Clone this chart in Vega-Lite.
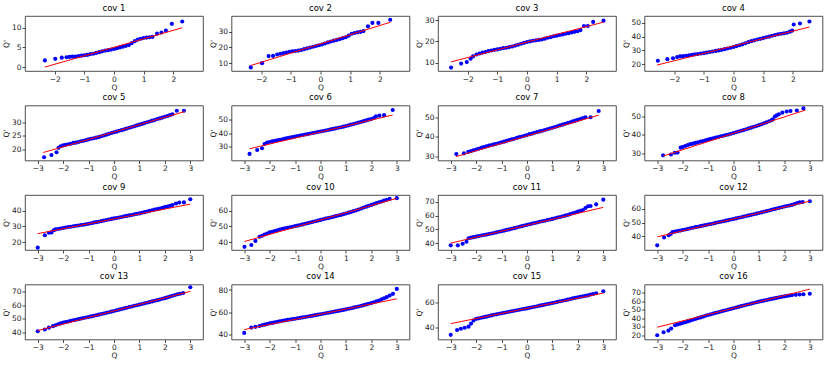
{
"$schema":"https://vega.github.io/schema/vega-lite/v6.json",
"padding":{"left":2,"top":3,"right":5,"bottom":3},
"spacing":{"row":34.5,"column":28.5},
"columns":4,
"bounds":"flush",
"config":{
 "view":{"continuousWidth":178,"continuousHeight":55,"stroke":"#222","strokeWidth":0.8},
 "axis":{"grid":false,"domain":false,"tickCount":20,"format":"d","tickColor":"#222","tickSize":3,"tickWidth":0.8,"labelFont":"DejaVu Sans","labelFontSize":7.5,"labelColor":"#222","titleFont":"DejaVu Sans","titleFontSize":7.5,"titleFontWeight":"normal","titleColor":"#222","labelPadding":1,"titlePadding":0.5,"labelFlush":false,"labelOverlap":false},
 "title":{"font":"DejaVu Sans","fontSize":8.5,"fontWeight":"normal","color":"#000","offset":4}
},
"datasets":{
"lines":[
{"c":1,"q1":-2.33,"v1":0.0,"q2":2.3,"v2":10.0},
{"c":2,"q1":-2.35,"v1":8.5,"q2":2.35,"v2":36.0},
{"c":3,"q1":-2.56,"v1":10.3,"q2":2.58,"v2":29.1},
{"c":4,"q1":-2.58,"v1":19.3,"q2":2.56,"v2":47.0},
{"c":5,"q1":-2.78,"v1":18.9,"q2":2.78,"v2":33.8},
{"c":6,"q1":-2.8,"v1":28.5,"q2":2.84,"v2":53.1},
{"c":7,"q1":-2.79,"v1":30.0,"q2":2.82,"v2":51.1},
{"c":8,"q1":-2.77,"v1":28.4,"q2":2.83,"v2":53.5},
{"c":9,"q1":-3.0,"v1":25.4,"q2":3.0,"v2":44.2},
{"c":10,"q1":-2.99,"v1":40.4,"q2":3.0,"v2":67.9},
{"c":11,"q1":-3.0,"v1":40.0,"q2":3.0,"v2":66.0},
{"c":12,"q1":-3.0,"v1":39.6,"q2":3.0,"v2":65.5},
{"c":13,"q1":-3.0,"v1":41.5,"q2":3.0,"v2":70.0},
{"c":14,"q1":-3.0,"v1":44.0,"q2":3.0,"v2":72.0},
{"c":15,"q1":-3.0,"v1":43.0,"q2":3.0,"v2":68.0},
{"c":16,"q1":-3.0,"v1":29.5,"q2":3.0,"v2":74.5}
],
"pts":[
{"c":1,"q":-2.33,"v":1.7},{"c":1,"q":-1.98,"v":2.1},{"c":1,"q":-1.76,"v":2.4},{"c":1,"q":-1.6,"v":2.5},{"c":1,"q":-1.5,"v":2.6},{"c":1,"q":-1.4,"v":2.65},{"c":1,"q":-1.3,"v":2.7},{"c":1,"q":-1.2,"v":2.8},{"c":1,"q":-1.1,"v":2.9},{"c":1,"q":-1.0,"v":3.0},{"c":1,"q":-0.9,"v":3.1},{"c":1,"q":-0.8,"v":3.3},{"c":1,"q":-0.7,"v":3.4},{"c":1,"q":-0.6,"v":3.6},{"c":1,"q":-0.5,"v":3.8},{"c":1,"q":-0.4,"v":4.0},{"c":1,"q":-0.3,"v":4.2},{"c":1,"q":-0.2,"v":4.3},{"c":1,"q":-0.1,"v":4.45},{"c":1,"q":0,"v":4.6},{"c":1,"q":0.1,"v":4.8},{"c":1,"q":0.2,"v":5.0},{"c":1,"q":0.3,"v":5.2},{"c":1,"q":0.4,"v":5.4},{"c":1,"q":0.5,"v":5.6},{"c":1,"q":0.6,"v":6.1},{"c":1,"q":0.7,"v":6.6},{"c":1,"q":0.8,"v":7.0},{"c":1,"q":0.9,"v":7.2},{"c":1,"q":1.0,"v":7.4},{"c":1,"q":1.1,"v":7.5},{"c":1,"q":1.2,"v":7.6},{"c":1,"q":1.3,"v":7.7},{"c":1,"q":1.45,"v":8.5},{"c":1,"q":1.6,"v":8.8},{"c":1,"q":1.75,"v":9.3},{"c":1,"q":1.95,"v":11.0},{"c":1,"q":2.3,"v":11.6},
{"c":2,"q":-2.35,"v":7.3},{"c":2,"q":-1.97,"v":10.0},{"c":2,"q":-1.75,"v":14.5},{"c":2,"q":-1.6,"v":14.6},{"c":2,"q":-1.46,"v":15.5},{"c":2,"q":-1.35,"v":16.0},{"c":2,"q":-1.25,"v":16.4},{"c":2,"q":-1.15,"v":16.8},{"c":2,"q":-1.05,"v":17.2},{"c":2,"q":-0.95,"v":17.5},{"c":2,"q":-0.85,"v":17.7},{"c":2,"q":-0.75,"v":18.0},{"c":2,"q":-0.65,"v":18.4},{"c":2,"q":-0.55,"v":18.9},{"c":2,"q":-0.45,"v":19.4},{"c":2,"q":-0.35,"v":19.9},{"c":2,"q":-0.25,"v":20.4},{"c":2,"q":-0.15,"v":20.9},{"c":2,"q":-0.05,"v":21.4},{"c":2,"q":0.05,"v":21.9},{"c":2,"q":0.15,"v":22.5},{"c":2,"q":0.25,"v":23.2},{"c":2,"q":0.35,"v":23.8},{"c":2,"q":0.45,"v":24.3},{"c":2,"q":0.55,"v":24.8},{"c":2,"q":0.65,"v":25.3},{"c":2,"q":0.75,"v":25.9},{"c":2,"q":0.85,"v":26.5},{"c":2,"q":0.95,"v":27.5},{"c":2,"q":1.05,"v":28.7},{"c":2,"q":1.15,"v":29.2},{"c":2,"q":1.25,"v":29.6},{"c":2,"q":1.35,"v":29.9},{"c":2,"q":1.45,"v":30.4},{"c":2,"q":1.6,"v":33.4},{"c":2,"q":1.75,"v":35.6},{"c":2,"q":1.95,"v":35.6},{"c":2,"q":2.35,"v":37.6},
{"c":3,"q":-2.56,"v":7.6},{"c":3,"q":-2.22,"v":9.5},{"c":3,"q":-2.03,"v":10.2},{"c":3,"q":-1.9,"v":11.8},{"c":3,"q":-1.82,"v":12.9},{"c":3,"q":-1.7,"v":13.8},{"c":3,"q":-1.6,"v":14.3},{"c":3,"q":-1.5,"v":14.7},{"c":3,"q":-1.4,"v":15.0},{"c":3,"q":-1.3,"v":15.4},{"c":3,"q":-1.2,"v":15.7},{"c":3,"q":-1.1,"v":16.0},{"c":3,"q":-1.0,"v":16.2},{"c":3,"q":-0.9,"v":16.5},{"c":3,"q":-0.8,"v":16.8},{"c":3,"q":-0.7,"v":17.0},{"c":3,"q":-0.6,"v":17.3},{"c":3,"q":-0.5,"v":17.6},{"c":3,"q":-0.4,"v":18.0},{"c":3,"q":-0.3,"v":18.4},{"c":3,"q":-0.2,"v":18.9},{"c":3,"q":-0.1,"v":19.3},{"c":3,"q":0,"v":19.7},{"c":3,"q":0.1,"v":20.0},{"c":3,"q":0.2,"v":20.3},{"c":3,"q":0.3,"v":20.5},{"c":3,"q":0.4,"v":20.7},{"c":3,"q":0.5,"v":20.9},{"c":3,"q":0.6,"v":21.3},{"c":3,"q":0.7,"v":21.7},{"c":3,"q":0.8,"v":22.0},{"c":3,"q":0.9,"v":22.4},{"c":3,"q":1.0,"v":22.7},{"c":3,"q":1.1,"v":23.0},{"c":3,"q":1.2,"v":23.3},{"c":3,"q":1.3,"v":23.6},{"c":3,"q":1.4,"v":23.9},{"c":3,"q":1.5,"v":24.2},{"c":3,"q":1.6,"v":24.5},{"c":3,"q":1.7,"v":24.8},{"c":3,"q":1.8,"v":25.3},{"c":3,"q":1.92,"v":27.3},{"c":3,"q":2.05,"v":27.3},{"c":3,"q":2.23,"v":29.2},{"c":3,"q":2.58,"v":29.8},
{"c":4,"q":-2.55,"v":22.5},{"c":4,"q":-2.23,"v":23.6},{"c":4,"q":-2.04,"v":24.3},{"c":4,"q":-1.9,"v":25.2},{"c":4,"q":-1.8,"v":25.6},{"c":4,"q":-1.7,"v":25.8},{"c":4,"q":-1.6,"v":26.1},{"c":4,"q":-1.5,"v":26.4},{"c":4,"q":-1.4,"v":26.7},{"c":4,"q":-1.3,"v":27.1},{"c":4,"q":-1.2,"v":27.4},{"c":4,"q":-1.1,"v":27.7},{"c":4,"q":-1.0,"v":28.0},{"c":4,"q":-0.9,"v":28.4},{"c":4,"q":-0.8,"v":28.8},{"c":4,"q":-0.7,"v":29.2},{"c":4,"q":-0.6,"v":29.6},{"c":4,"q":-0.5,"v":30.0},{"c":4,"q":-0.4,"v":30.4},{"c":4,"q":-0.3,"v":30.9},{"c":4,"q":-0.2,"v":31.4},{"c":4,"q":-0.1,"v":31.9},{"c":4,"q":0,"v":32.5},{"c":4,"q":0.1,"v":33.1},{"c":4,"q":0.2,"v":33.7},{"c":4,"q":0.3,"v":34.4},{"c":4,"q":0.4,"v":35.2},{"c":4,"q":0.5,"v":36.0},{"c":4,"q":0.6,"v":36.7},{"c":4,"q":0.7,"v":37.3},{"c":4,"q":0.8,"v":37.9},{"c":4,"q":0.9,"v":38.4},{"c":4,"q":1.0,"v":38.9},{"c":4,"q":1.1,"v":39.5},{"c":4,"q":1.2,"v":40.0},{"c":4,"q":1.3,"v":40.6},{"c":4,"q":1.4,"v":41.2},{"c":4,"q":1.5,"v":41.7},{"c":4,"q":1.6,"v":42.1},{"c":4,"q":1.7,"v":42.4},{"c":4,"q":1.8,"v":42.8},{"c":4,"q":1.9,"v":43.6},{"c":4,"q":1.98,"v":44.4},{"c":4,"q":2.03,"v":48.8},{"c":4,"q":2.24,"v":49.5},{"c":4,"q":2.56,"v":51.0},
{"c":5,"q":-2.75,"v":17.2},{"c":5,"q":-2.46,"v":18.0},{"c":5,"q":-2.26,"v":19.0},{"c":5,"q":-2.18,"v":20.6},{"c":5,"q":-2.1,"v":21.2},{"c":5,"q":-2.0,"v":21.5},{"c":5,"q":-1.9,"v":21.7},{"c":5,"q":-1.8,"v":21.9},{"c":5,"q":-1.7,"v":22.1},{"c":5,"q":-1.6,"v":22.4},{"c":5,"q":-1.5,"v":22.5},{"c":5,"q":-1.4,"v":22.75},{"c":5,"q":-1.3,"v":23.0},{"c":5,"q":-1.2,"v":23.2},{"c":5,"q":-1.1,"v":23.4},{"c":5,"q":-1.0,"v":23.7},{"c":5,"q":-0.9,"v":23.9},{"c":5,"q":-0.8,"v":24.1},{"c":5,"q":-0.7,"v":24.3},{"c":5,"q":-0.6,"v":24.5},{"c":5,"q":-0.5,"v":24.8},{"c":5,"q":-0.4,"v":25.1},{"c":5,"q":-0.3,"v":25.4},{"c":5,"q":-0.2,"v":25.7},{"c":5,"q":-0.1,"v":26.0},{"c":5,"q":0,"v":26.25},{"c":5,"q":0.1,"v":26.5},{"c":5,"q":0.2,"v":26.8},{"c":5,"q":0.3,"v":27.05},{"c":5,"q":0.4,"v":27.3},{"c":5,"q":0.5,"v":27.6},{"c":5,"q":0.6,"v":27.9},{"c":5,"q":0.7,"v":28.2},{"c":5,"q":0.8,"v":28.45},{"c":5,"q":0.9,"v":28.76},{"c":5,"q":1.0,"v":29.03},{"c":5,"q":1.1,"v":29.3},{"c":5,"q":1.2,"v":29.6},{"c":5,"q":1.3,"v":29.9},{"c":5,"q":1.4,"v":30.2},{"c":5,"q":1.5,"v":30.5},{"c":5,"q":1.6,"v":30.7},{"c":5,"q":1.7,"v":31.1},{"c":5,"q":1.8,"v":31.3},{"c":5,"q":1.9,"v":31.6},{"c":5,"q":2.0,"v":31.9},{"c":5,"q":2.1,"v":32.2},{"c":5,"q":2.2,"v":32.5},{"c":5,"q":2.3,"v":32.8},{"c":5,"q":2.47,"v":34.1},{"c":5,"q":2.75,"v":34.1},
{"c":6,"q":-2.79,"v":24.8},{"c":6,"q":-2.49,"v":27.6},{"c":6,"q":-2.3,"v":28.9},{"c":6,"q":-2.2,"v":32.0},{"c":6,"q":-2.1,"v":33.1},{"c":6,"q":-2.0,"v":33.5},{"c":6,"q":-1.9,"v":33.9},{"c":6,"q":-1.8,"v":34.3},{"c":6,"q":-1.7,"v":34.7},{"c":6,"q":-1.6,"v":35.1},{"c":6,"q":-1.5,"v":35.5},{"c":6,"q":-1.4,"v":35.9},{"c":6,"q":-1.3,"v":36.25},{"c":6,"q":-1.2,"v":36.65},{"c":6,"q":-1.1,"v":37.0},{"c":6,"q":-1.0,"v":37.4},{"c":6,"q":-0.9,"v":37.8},{"c":6,"q":-0.8,"v":38.15},{"c":6,"q":-0.7,"v":38.5},{"c":6,"q":-0.6,"v":38.9},{"c":6,"q":-0.5,"v":39.2},{"c":6,"q":-0.4,"v":39.6},{"c":6,"q":-0.3,"v":40.0},{"c":6,"q":-0.2,"v":40.35},{"c":6,"q":-0.1,"v":40.7},{"c":6,"q":0,"v":41.1},{"c":6,"q":0.1,"v":41.5},{"c":6,"q":0.2,"v":41.85},{"c":6,"q":0.3,"v":42.2},{"c":6,"q":0.4,"v":42.6},{"c":6,"q":0.5,"v":43.0},{"c":6,"q":0.6,"v":43.4},{"c":6,"q":0.7,"v":43.8},{"c":6,"q":0.8,"v":44.2},{"c":6,"q":0.9,"v":44.6},{"c":6,"q":1.0,"v":45.06},{"c":6,"q":1.1,"v":45.55},{"c":6,"q":1.2,"v":46.05},{"c":6,"q":1.3,"v":46.55},{"c":6,"q":1.4,"v":47.05},{"c":6,"q":1.5,"v":47.55},{"c":6,"q":1.6,"v":48.1},{"c":6,"q":1.7,"v":48.6},{"c":6,"q":1.8,"v":49.15},{"c":6,"q":1.9,"v":49.7},{"c":6,"q":2.0,"v":50.2},{"c":6,"q":2.1,"v":50.9},{"c":6,"q":2.18,"v":52.2},{"c":6,"q":2.32,"v":52.6},{"c":6,"q":2.5,"v":53.0},{"c":6,"q":2.84,"v":56.7},
{"c":7,"q":-2.78,"v":31.3},{"c":7,"q":-2.48,"v":31.6},{"c":7,"q":-2.31,"v":32.4},{"c":7,"q":-2.2,"v":32.8},{"c":7,"q":-2.1,"v":33.2},{"c":7,"q":-2.0,"v":33.6},{"c":7,"q":-1.9,"v":34.0},{"c":7,"q":-1.8,"v":34.4},{"c":7,"q":-1.7,"v":34.8},{"c":7,"q":-1.6,"v":35.2},{"c":7,"q":-1.5,"v":35.55},{"c":7,"q":-1.4,"v":35.9},{"c":7,"q":-1.3,"v":36.2},{"c":7,"q":-1.2,"v":36.55},{"c":7,"q":-1.1,"v":36.9},{"c":7,"q":-1.0,"v":37.25},{"c":7,"q":-0.9,"v":37.6},{"c":7,"q":-0.8,"v":38.0},{"c":7,"q":-0.7,"v":38.4},{"c":7,"q":-0.6,"v":38.75},{"c":7,"q":-0.5,"v":39.1},{"c":7,"q":-0.4,"v":39.5},{"c":7,"q":-0.3,"v":39.9},{"c":7,"q":-0.2,"v":40.25},{"c":7,"q":-0.1,"v":40.6},{"c":7,"q":0,"v":41.0},{"c":7,"q":0.1,"v":41.4},{"c":7,"q":0.2,"v":41.7},{"c":7,"q":0.3,"v":42.1},{"c":7,"q":0.4,"v":42.45},{"c":7,"q":0.5,"v":42.8},{"c":7,"q":0.6,"v":43.15},{"c":7,"q":0.7,"v":43.5},{"c":7,"q":0.8,"v":43.9},{"c":7,"q":0.9,"v":44.3},{"c":7,"q":1.0,"v":44.65},{"c":7,"q":1.1,"v":45.05},{"c":7,"q":1.2,"v":45.45},{"c":7,"q":1.3,"v":45.9},{"c":7,"q":1.4,"v":46.25},{"c":7,"q":1.5,"v":46.7},{"c":7,"q":1.6,"v":47.1},{"c":7,"q":1.7,"v":47.5},{"c":7,"q":1.8,"v":47.9},{"c":7,"q":1.9,"v":48.3},{"c":7,"q":2.0,"v":48.7},{"c":7,"q":2.1,"v":49.15},{"c":7,"q":2.2,"v":49.6},{"c":7,"q":2.3,"v":50.0},{"c":7,"q":2.5,"v":50.0},{"c":7,"q":2.82,"v":53.2},
{"c":8,"q":-2.77,"v":28.8},{"c":8,"q":-2.46,"v":29.3},{"c":8,"q":-2.31,"v":30.2},{"c":8,"q":-2.2,"v":30.3},{"c":8,"q":-2.08,"v":33.0},{"c":8,"q":-2.0,"v":33.3},{"c":8,"q":-1.9,"v":33.9},{"c":8,"q":-1.8,"v":34.4},{"c":8,"q":-1.7,"v":34.9},{"c":8,"q":-1.6,"v":35.2},{"c":8,"q":-1.5,"v":35.6},{"c":8,"q":-1.4,"v":35.9},{"c":8,"q":-1.3,"v":36.3},{"c":8,"q":-1.2,"v":36.6},{"c":8,"q":-1.1,"v":37.0},{"c":8,"q":-1.0,"v":37.4},{"c":8,"q":-0.9,"v":37.8},{"c":8,"q":-0.8,"v":38.1},{"c":8,"q":-0.7,"v":38.5},{"c":8,"q":-0.6,"v":38.8},{"c":8,"q":-0.5,"v":39.2},{"c":8,"q":-0.4,"v":39.5},{"c":8,"q":-0.3,"v":39.9},{"c":8,"q":-0.2,"v":40.2},{"c":8,"q":-0.1,"v":40.6},{"c":8,"q":0,"v":41.0},{"c":8,"q":0.1,"v":41.4},{"c":8,"q":0.2,"v":41.8},{"c":8,"q":0.3,"v":42.2},{"c":8,"q":0.4,"v":42.6},{"c":8,"q":0.5,"v":43.04},{"c":8,"q":0.6,"v":43.49},{"c":8,"q":0.7,"v":43.94},{"c":8,"q":0.8,"v":44.38},{"c":8,"q":0.9,"v":44.83},{"c":8,"q":1.0,"v":45.28},{"c":8,"q":1.1,"v":45.8},{"c":8,"q":1.2,"v":46.3},{"c":8,"q":1.3,"v":46.8},{"c":8,"q":1.4,"v":47.4},{"c":8,"q":1.5,"v":48.0},{"c":8,"q":1.55,"v":48.5},{"c":8,"q":1.63,"v":50.0},{"c":8,"q":1.7,"v":50.6},{"c":8,"q":1.78,"v":51.2},{"c":8,"q":1.92,"v":52.1},{"c":8,"q":2.09,"v":52.7},{"c":8,"q":2.24,"v":53.0},{"c":8,"q":2.49,"v":53.3},{"c":8,"q":2.75,"v":54.4},
{"c":9,"q":-3.0,"v":16.5},{"c":9,"q":-2.72,"v":24.4},{"c":9,"q":-2.56,"v":26.0},{"c":9,"q":-2.46,"v":26.2},{"c":9,"q":-2.37,"v":27.6},{"c":9,"q":-2.3,"v":28.1},{"c":9,"q":-2.2,"v":28.4},{"c":9,"q":-2.1,"v":28.7},{"c":9,"q":-2.0,"v":29.0},{"c":9,"q":-1.9,"v":29.3},{"c":9,"q":-1.8,"v":29.6},{"c":9,"q":-1.7,"v":29.8},{"c":9,"q":-1.6,"v":30.1},{"c":9,"q":-1.5,"v":30.4},{"c":9,"q":-1.4,"v":30.6},{"c":9,"q":-1.3,"v":30.9},{"c":9,"q":-1.2,"v":31.1},{"c":9,"q":-1.1,"v":31.4},{"c":9,"q":-1.0,"v":31.67},{"c":9,"q":-0.9,"v":32.0},{"c":9,"q":-0.8,"v":32.4},{"c":9,"q":-0.7,"v":32.7},{"c":9,"q":-0.6,"v":33.0},{"c":9,"q":-0.5,"v":33.4},{"c":9,"q":-0.4,"v":33.7},{"c":9,"q":-0.3,"v":34.1},{"c":9,"q":-0.2,"v":34.4},{"c":9,"q":-0.1,"v":34.8},{"c":9,"q":0,"v":35.1},{"c":9,"q":0.1,"v":35.4},{"c":9,"q":0.2,"v":35.7},{"c":9,"q":0.3,"v":36.0},{"c":9,"q":0.4,"v":36.4},{"c":9,"q":0.5,"v":36.7},{"c":9,"q":0.6,"v":37.0},{"c":9,"q":0.7,"v":37.3},{"c":9,"q":0.8,"v":37.7},{"c":9,"q":0.9,"v":38.0},{"c":9,"q":1.0,"v":38.3},{"c":9,"q":1.1,"v":38.7},{"c":9,"q":1.2,"v":39.1},{"c":9,"q":1.3,"v":39.5},{"c":9,"q":1.4,"v":39.9},{"c":9,"q":1.5,"v":40.3},{"c":9,"q":1.6,"v":40.7},{"c":9,"q":1.7,"v":41.0},{"c":9,"q":1.8,"v":41.4},{"c":9,"q":1.9,"v":41.9},{"c":9,"q":2.0,"v":42.3},{"c":9,"q":2.1,"v":42.7},{"c":9,"q":2.2,"v":43.1},{"c":9,"q":2.3,"v":43.6},{"c":9,"q":2.44,"v":44.6},{"c":9,"q":2.57,"v":45.2},{"c":9,"q":2.75,"v":45.3},{"c":9,"q":3.0,"v":47.3},
{"c":10,"q":-2.99,"v":37.0},{"c":10,"q":-2.72,"v":38.2},{"c":10,"q":-2.56,"v":40.8},{"c":10,"q":-2.4,"v":43.4},{"c":10,"q":-2.3,"v":44.1},{"c":10,"q":-2.2,"v":44.9},{"c":10,"q":-2.1,"v":45.5},{"c":10,"q":-2.0,"v":46.2},{"c":10,"q":-1.9,"v":46.65},{"c":10,"q":-1.8,"v":47.1},{"c":10,"q":-1.7,"v":47.6},{"c":10,"q":-1.6,"v":48.0},{"c":10,"q":-1.5,"v":48.5},{"c":10,"q":-1.4,"v":48.8},{"c":10,"q":-1.3,"v":49.15},{"c":10,"q":-1.2,"v":49.5},{"c":10,"q":-1.1,"v":49.8},{"c":10,"q":-1.0,"v":50.2},{"c":10,"q":-0.9,"v":50.5},{"c":10,"q":-0.8,"v":50.9},{"c":10,"q":-0.7,"v":51.3},{"c":10,"q":-0.6,"v":51.7},{"c":10,"q":-0.5,"v":52.1},{"c":10,"q":-0.4,"v":52.5},{"c":10,"q":-0.3,"v":52.9},{"c":10,"q":-0.2,"v":53.3},{"c":10,"q":-0.1,"v":53.7},{"c":10,"q":0,"v":54.15},{"c":10,"q":0.1,"v":54.55},{"c":10,"q":0.2,"v":55.0},{"c":10,"q":0.3,"v":55.3},{"c":10,"q":0.4,"v":55.7},{"c":10,"q":0.5,"v":56.1},{"c":10,"q":0.6,"v":56.55},{"c":10,"q":0.7,"v":56.95},{"c":10,"q":0.8,"v":57.35},{"c":10,"q":0.9,"v":57.8},{"c":10,"q":1.0,"v":58.2},{"c":10,"q":1.1,"v":58.75},{"c":10,"q":1.2,"v":59.25},{"c":10,"q":1.3,"v":59.75},{"c":10,"q":1.4,"v":60.25},{"c":10,"q":1.5,"v":60.8},{"c":10,"q":1.6,"v":61.4},{"c":10,"q":1.7,"v":62.05},{"c":10,"q":1.8,"v":62.6},{"c":10,"q":1.9,"v":63.15},{"c":10,"q":2.0,"v":63.7},{"c":10,"q":2.1,"v":64.3},{"c":10,"q":2.2,"v":64.8},{"c":10,"q":2.3,"v":65.4},{"c":10,"q":2.4,"v":65.9},{"c":10,"q":2.5,"v":66.5},{"c":10,"q":2.6,"v":66.9},{"c":10,"q":2.72,"v":67.5},{"c":10,"q":3.0,"v":68.0},
{"c":11,"q":-3.0,"v":38.4},{"c":11,"q":-2.72,"v":38.4},{"c":11,"q":-2.53,"v":39.5},{"c":11,"q":-2.38,"v":41.0},{"c":11,"q":-2.3,"v":43.5},{"c":11,"q":-2.2,"v":44.0},{"c":11,"q":-2.1,"v":44.35},{"c":11,"q":-2.0,"v":44.75},{"c":11,"q":-1.9,"v":45.1},{"c":11,"q":-1.8,"v":45.5},{"c":11,"q":-1.7,"v":45.9},{"c":11,"q":-1.6,"v":46.2},{"c":11,"q":-1.5,"v":46.6},{"c":11,"q":-1.4,"v":47.0},{"c":11,"q":-1.3,"v":47.4},{"c":11,"q":-1.2,"v":47.85},{"c":11,"q":-1.1,"v":48.25},{"c":11,"q":-1.0,"v":48.67},{"c":11,"q":-0.9,"v":49.1},{"c":11,"q":-0.8,"v":49.6},{"c":11,"q":-0.7,"v":50.0},{"c":11,"q":-0.6,"v":50.5},{"c":11,"q":-0.5,"v":50.9},{"c":11,"q":-0.4,"v":51.4},{"c":11,"q":-0.3,"v":51.9},{"c":11,"q":-0.2,"v":52.35},{"c":11,"q":-0.1,"v":52.8},{"c":11,"q":0,"v":53.3},{"c":11,"q":0.1,"v":53.7},{"c":11,"q":0.2,"v":54.2},{"c":11,"q":0.3,"v":54.6},{"c":11,"q":0.4,"v":55.0},{"c":11,"q":0.5,"v":55.5},{"c":11,"q":0.6,"v":55.9},{"c":11,"q":0.7,"v":56.3},{"c":11,"q":0.8,"v":56.8},{"c":11,"q":0.9,"v":57.2},{"c":11,"q":1.0,"v":57.6},{"c":11,"q":1.1,"v":58.1},{"c":11,"q":1.2,"v":58.6},{"c":11,"q":1.3,"v":59.0},{"c":11,"q":1.4,"v":59.5},{"c":11,"q":1.5,"v":60.0},{"c":11,"q":1.6,"v":60.5},{"c":11,"q":1.7,"v":61.1},{"c":11,"q":1.8,"v":61.7},{"c":11,"q":1.9,"v":62.3},{"c":11,"q":2.0,"v":62.9},{"c":11,"q":2.1,"v":63.5},{"c":11,"q":2.2,"v":64.1},{"c":11,"q":2.3,"v":65.5},{"c":11,"q":2.4,"v":66.8},{"c":11,"q":2.5,"v":67.0},{"c":11,"q":2.72,"v":68.2},{"c":11,"q":3.0,"v":71.6},
{"c":12,"q":-3.0,"v":33.4},{"c":12,"q":-2.73,"v":39.1},{"c":12,"q":-2.55,"v":40.7},{"c":12,"q":-2.47,"v":41.6},{"c":12,"q":-2.4,"v":43.0},{"c":12,"q":-2.3,"v":43.4},{"c":12,"q":-2.2,"v":43.75},{"c":12,"q":-2.1,"v":44.1},{"c":12,"q":-2.0,"v":44.5},{"c":12,"q":-1.9,"v":44.9},{"c":12,"q":-1.8,"v":45.3},{"c":12,"q":-1.7,"v":45.75},{"c":12,"q":-1.6,"v":46.15},{"c":12,"q":-1.5,"v":46.6},{"c":12,"q":-1.4,"v":46.95},{"c":12,"q":-1.3,"v":47.35},{"c":12,"q":-1.2,"v":47.75},{"c":12,"q":-1.1,"v":48.1},{"c":12,"q":-1.0,"v":48.5},{"c":12,"q":-0.9,"v":48.9},{"c":12,"q":-0.8,"v":49.3},{"c":12,"q":-0.7,"v":49.75},{"c":12,"q":-0.6,"v":50.15},{"c":12,"q":-0.5,"v":50.55},{"c":12,"q":-0.4,"v":50.95},{"c":12,"q":-0.3,"v":51.35},{"c":12,"q":-0.2,"v":51.75},{"c":12,"q":-0.1,"v":52.15},{"c":12,"q":0,"v":52.55},{"c":12,"q":0.1,"v":52.98},{"c":12,"q":0.2,"v":53.41},{"c":12,"q":0.3,"v":53.85},{"c":12,"q":0.4,"v":54.28},{"c":12,"q":0.5,"v":54.71},{"c":12,"q":0.6,"v":55.14},{"c":12,"q":0.7,"v":55.57},{"c":12,"q":0.8,"v":56.01},{"c":12,"q":0.9,"v":56.44},{"c":12,"q":1.0,"v":56.87},{"c":12,"q":1.1,"v":57.35},{"c":12,"q":1.2,"v":57.8},{"c":12,"q":1.3,"v":58.3},{"c":12,"q":1.4,"v":58.75},{"c":12,"q":1.5,"v":59.25},{"c":12,"q":1.6,"v":59.7},{"c":12,"q":1.7,"v":60.2},{"c":12,"q":1.8,"v":60.65},{"c":12,"q":1.9,"v":61.1},{"c":12,"q":2.0,"v":61.6},{"c":12,"q":2.1,"v":62.0},{"c":12,"q":2.2,"v":62.4},{"c":12,"q":2.3,"v":62.8},{"c":12,"q":2.4,"v":63.5},{"c":12,"q":2.5,"v":64.2},{"c":12,"q":2.6,"v":64.6},{"c":12,"q":2.72,"v":64.9},{"c":12,"q":3.0,"v":65.5},
{"c":13,"q":-3.0,"v":41.0},{"c":13,"q":-2.72,"v":42.3},{"c":13,"q":-2.56,"v":43.6},{"c":13,"q":-2.4,"v":44.7},{"c":13,"q":-2.3,"v":45.4},{"c":13,"q":-2.2,"v":46.1},{"c":13,"q":-2.1,"v":46.7},{"c":13,"q":-2.0,"v":47.25},{"c":13,"q":-1.9,"v":47.7},{"c":13,"q":-1.8,"v":48.1},{"c":13,"q":-1.7,"v":48.55},{"c":13,"q":-1.6,"v":49.0},{"c":13,"q":-1.5,"v":49.4},{"c":13,"q":-1.4,"v":49.8},{"c":13,"q":-1.3,"v":50.2},{"c":13,"q":-1.2,"v":50.6},{"c":13,"q":-1.1,"v":51.0},{"c":13,"q":-1.0,"v":51.4},{"c":13,"q":-0.9,"v":51.8},{"c":13,"q":-0.8,"v":52.2},{"c":13,"q":-0.7,"v":52.65},{"c":13,"q":-0.6,"v":53.05},{"c":13,"q":-0.5,"v":53.5},{"c":13,"q":-0.4,"v":53.9},{"c":13,"q":-0.3,"v":54.4},{"c":13,"q":-0.2,"v":54.85},{"c":13,"q":-0.1,"v":55.3},{"c":13,"q":0,"v":55.75},{"c":13,"q":0.1,"v":56.23},{"c":13,"q":0.2,"v":56.7},{"c":13,"q":0.3,"v":57.18},{"c":13,"q":0.4,"v":57.65},{"c":13,"q":0.5,"v":58.13},{"c":13,"q":0.6,"v":58.6},{"c":13,"q":0.7,"v":59.0},{"c":13,"q":0.8,"v":59.5},{"c":13,"q":0.9,"v":59.95},{"c":13,"q":1.0,"v":60.4},{"c":13,"q":1.1,"v":60.85},{"c":13,"q":1.2,"v":61.3},{"c":13,"q":1.3,"v":61.75},{"c":13,"q":1.4,"v":62.2},{"c":13,"q":1.5,"v":62.7},{"c":13,"q":1.6,"v":63.15},{"c":13,"q":1.7,"v":63.6},{"c":13,"q":1.8,"v":64.1},{"c":13,"q":1.9,"v":64.6},{"c":13,"q":2.0,"v":65.05},{"c":13,"q":2.1,"v":65.6},{"c":13,"q":2.2,"v":66.2},{"c":13,"q":2.3,"v":66.8},{"c":13,"q":2.4,"v":67.35},{"c":13,"q":2.5,"v":67.9},{"c":13,"q":2.6,"v":68.3},{"c":13,"q":2.72,"v":68.8},{"c":13,"q":3.0,"v":73.0},
{"c":14,"q":-3.0,"v":41.0},{"c":14,"q":-2.72,"v":45.8},{"c":14,"q":-2.56,"v":46.5},{"c":14,"q":-2.4,"v":47.3},{"c":14,"q":-2.3,"v":47.9},{"c":14,"q":-2.2,"v":48.5},{"c":14,"q":-2.1,"v":49.1},{"c":14,"q":-2.0,"v":49.7},{"c":14,"q":-1.9,"v":50.1},{"c":14,"q":-1.8,"v":50.6},{"c":14,"q":-1.7,"v":51.1},{"c":14,"q":-1.6,"v":51.5},{"c":14,"q":-1.5,"v":52.0},{"c":14,"q":-1.4,"v":52.4},{"c":14,"q":-1.3,"v":52.8},{"c":14,"q":-1.2,"v":53.2},{"c":14,"q":-1.1,"v":53.55},{"c":14,"q":-1.0,"v":53.9},{"c":14,"q":-0.9,"v":54.3},{"c":14,"q":-0.8,"v":54.7},{"c":14,"q":-0.7,"v":55.1},{"c":14,"q":-0.6,"v":55.5},{"c":14,"q":-0.5,"v":55.9},{"c":14,"q":-0.4,"v":56.3},{"c":14,"q":-0.3,"v":56.7},{"c":14,"q":-0.2,"v":57.15},{"c":14,"q":-0.1,"v":57.6},{"c":14,"q":0,"v":58.0},{"c":14,"q":0.1,"v":58.4},{"c":14,"q":0.2,"v":58.85},{"c":14,"q":0.3,"v":59.3},{"c":14,"q":0.4,"v":59.7},{"c":14,"q":0.5,"v":60.15},{"c":14,"q":0.6,"v":60.6},{"c":14,"q":0.7,"v":61.0},{"c":14,"q":0.8,"v":61.5},{"c":14,"q":0.9,"v":61.9},{"c":14,"q":1.0,"v":62.4},{"c":14,"q":1.1,"v":62.9},{"c":14,"q":1.2,"v":63.4},{"c":14,"q":1.3,"v":63.95},{"c":14,"q":1.4,"v":64.5},{"c":14,"q":1.5,"v":65.0},{"c":14,"q":1.6,"v":65.6},{"c":14,"q":1.7,"v":66.3},{"c":14,"q":1.8,"v":66.9},{"c":14,"q":1.9,"v":67.5},{"c":14,"q":2.0,"v":68.1},{"c":14,"q":2.1,"v":68.9},{"c":14,"q":2.2,"v":69.7},{"c":14,"q":2.3,"v":70.5},{"c":14,"q":2.4,"v":71.5},{"c":14,"q":2.5,"v":72.5},{"c":14,"q":2.6,"v":73.5},{"c":14,"q":2.72,"v":75.0},{"c":14,"q":2.85,"v":76.5},{"c":14,"q":3.0,"v":81.0},
{"c":15,"q":-3.0,"v":33.8},{"c":15,"q":-2.75,"v":37.8},{"c":15,"q":-2.6,"v":38.8},{"c":15,"q":-2.45,"v":39.6},{"c":15,"q":-2.3,"v":40.5},{"c":15,"q":-2.2,"v":43.0},{"c":15,"q":-2.1,"v":45.5},{"c":15,"q":-2.0,"v":46.9},{"c":15,"q":-1.9,"v":47.3},{"c":15,"q":-1.8,"v":47.8},{"c":15,"q":-1.7,"v":48.3},{"c":15,"q":-1.6,"v":48.7},{"c":15,"q":-1.5,"v":49.25},{"c":15,"q":-1.4,"v":49.7},{"c":15,"q":-1.3,"v":50.2},{"c":15,"q":-1.2,"v":50.6},{"c":15,"q":-1.1,"v":51.1},{"c":15,"q":-1.0,"v":51.5},{"c":15,"q":-0.9,"v":51.9},{"c":15,"q":-0.8,"v":52.3},{"c":15,"q":-0.7,"v":52.7},{"c":15,"q":-0.6,"v":53.1},{"c":15,"q":-0.5,"v":53.5},{"c":15,"q":-0.4,"v":53.9},{"c":15,"q":-0.3,"v":54.3},{"c":15,"q":-0.2,"v":54.7},{"c":15,"q":-0.1,"v":55.1},{"c":15,"q":0,"v":55.5},{"c":15,"q":0.1,"v":55.9},{"c":15,"q":0.2,"v":56.4},{"c":15,"q":0.3,"v":56.8},{"c":15,"q":0.4,"v":57.25},{"c":15,"q":0.5,"v":57.7},{"c":15,"q":0.6,"v":58.1},{"c":15,"q":0.7,"v":58.55},{"c":15,"q":0.8,"v":59.0},{"c":15,"q":0.9,"v":59.4},{"c":15,"q":1.0,"v":59.9},{"c":15,"q":1.1,"v":60.3},{"c":15,"q":1.2,"v":60.8},{"c":15,"q":1.3,"v":61.25},{"c":15,"q":1.4,"v":61.7},{"c":15,"q":1.5,"v":62.15},{"c":15,"q":1.6,"v":62.6},{"c":15,"q":1.7,"v":63.1},{"c":15,"q":1.8,"v":63.6},{"c":15,"q":1.9,"v":64.1},{"c":15,"q":2.0,"v":64.5},{"c":15,"q":2.1,"v":65.0},{"c":15,"q":2.2,"v":65.3},{"c":15,"q":2.3,"v":65.7},{"c":15,"q":2.4,"v":66.1},{"c":15,"q":2.5,"v":66.8},{"c":15,"q":2.6,"v":67.2},{"c":15,"q":2.72,"v":67.8},{"c":15,"q":3.0,"v":69.5},
{"c":16,"q":-3.0,"v":20.0},{"c":16,"q":-2.75,"v":23.5},{"c":16,"q":-2.56,"v":25.5},{"c":16,"q":-2.45,"v":28.0},{"c":16,"q":-2.3,"v":31.8},{"c":16,"q":-2.2,"v":32.7},{"c":16,"q":-2.1,"v":33.6},{"c":16,"q":-2.0,"v":34.5},{"c":16,"q":-1.9,"v":35.45},{"c":16,"q":-1.8,"v":36.4},{"c":16,"q":-1.7,"v":37.35},{"c":16,"q":-1.6,"v":38.3},{"c":16,"q":-1.5,"v":39.25},{"c":16,"q":-1.4,"v":40.2},{"c":16,"q":-1.3,"v":41.1},{"c":16,"q":-1.2,"v":42.0},{"c":16,"q":-1.1,"v":43.0},{"c":16,"q":-1.0,"v":43.9},{"c":16,"q":-0.9,"v":44.7},{"c":16,"q":-0.8,"v":45.6},{"c":16,"q":-0.7,"v":46.4},{"c":16,"q":-0.6,"v":47.2},{"c":16,"q":-0.5,"v":48.05},{"c":16,"q":-0.4,"v":48.85},{"c":16,"q":-0.3,"v":49.6},{"c":16,"q":-0.2,"v":50.4},{"c":16,"q":-0.1,"v":51.2},{"c":16,"q":0,"v":52.0},{"c":16,"q":0.1,"v":52.8},{"c":16,"q":0.2,"v":53.6},{"c":16,"q":0.3,"v":54.4},{"c":16,"q":0.4,"v":55.15},{"c":16,"q":0.5,"v":55.95},{"c":16,"q":0.6,"v":56.7},{"c":16,"q":0.7,"v":57.45},{"c":16,"q":0.8,"v":58.2},{"c":16,"q":0.9,"v":58.95},{"c":16,"q":1.0,"v":59.7},{"c":16,"q":1.1,"v":60.4},{"c":16,"q":1.2,"v":61.0},{"c":16,"q":1.3,"v":61.7},{"c":16,"q":1.4,"v":62.4},{"c":16,"q":1.5,"v":63.05},{"c":16,"q":1.6,"v":63.6},{"c":16,"q":1.7,"v":64.2},{"c":16,"q":1.8,"v":64.8},{"c":16,"q":1.9,"v":65.4},{"c":16,"q":2.0,"v":66.0},{"c":16,"q":2.1,"v":66.5},{"c":16,"q":2.2,"v":67.0},{"c":16,"q":2.3,"v":67.45},{"c":16,"q":2.45,"v":67.8},{"c":16,"q":2.6,"v":68.2},{"c":16,"q":2.75,"v":68.5},{"c":16,"q":3.0,"v":69.0}
]
},
"concat":[
{"title":"cov 1","layer":[{"data":{"name":"pts"},"transform":[{"filter":"datum.c==1"}],"mark":{"type":"circle","size":17,"color":"#0000ff","opacity":1},"encoding":{"x":{"field":"q","type":"quantitative","title":"Q","scale":{"domain":[-2.56,2.53]},"axis":{"values":[-2,-1,0,1,2],"format":"d"}},"y":{"field":"v","type":"quantitative","title":"Q'","scale":{"domain":[-0.6,12.2]},"axis":{"values":[0,5,10],"format":"d"}}}},{"data":{"name":"lines"},"transform":[{"filter":"datum.c==1"}],"mark":{"type":"rule","color":"#ff0000","strokeWidth":1},"encoding":{"x":{"field":"q1","type":"quantitative"},"x2":{"field":"q2"},"y":{"field":"v1","type":"quantitative"},"y2":{"field":"v2"}}}]},
{"title":"cov 2","layer":[{"data":{"name":"pts"},"transform":[{"filter":"datum.c==2"}],"mark":{"type":"circle","size":17,"color":"#0000ff","opacity":1},"encoding":{"x":{"field":"q","type":"quantitative","title":"Q","scale":{"domain":[-2.59,2.59]},"axis":{"values":[-2,-1,0,1,2],"format":"d"}},"y":{"field":"v","type":"quantitative","title":"Q'","scale":{"domain":[5.8,39.1]},"axis":{"values":[10,20,30],"format":"d"}}}},{"data":{"name":"lines"},"transform":[{"filter":"datum.c==2"}],"mark":{"type":"rule","color":"#ff0000","strokeWidth":1},"encoding":{"x":{"field":"q1","type":"quantitative"},"x2":{"field":"q2"},"y":{"field":"v1","type":"quantitative"},"y2":{"field":"v2"}}}]},
{"title":"cov 3","layer":[{"data":{"name":"pts"},"transform":[{"filter":"datum.c==3"}],"mark":{"type":"circle","size":17,"color":"#0000ff","opacity":1},"encoding":{"x":{"field":"q","type":"quantitative","title":"Q","scale":{"domain":[-2.82,2.84]},"axis":{"values":[-2,-1,0,1,2],"format":"d"}},"y":{"field":"v","type":"quantitative","title":"Q'","scale":{"domain":[6.5,30.9]},"axis":{"values":[10,20,30],"format":"d"}}}},{"data":{"name":"lines"},"transform":[{"filter":"datum.c==3"}],"mark":{"type":"rule","color":"#ff0000","strokeWidth":1},"encoding":{"x":{"field":"q1","type":"quantitative"},"x2":{"field":"q2"},"y":{"field":"v1","type":"quantitative"},"y2":{"field":"v2"}}}]},
{"title":"cov 4","layer":[{"data":{"name":"pts"},"transform":[{"filter":"datum.c==4"}],"mark":{"type":"circle","size":17,"color":"#0000ff","opacity":1},"encoding":{"x":{"field":"q","type":"quantitative","title":"Q","scale":{"domain":[-2.84,2.82]},"axis":{"values":[-2,-1,0,1,2],"format":"d"}},"y":{"field":"v","type":"quantitative","title":"Q'","scale":{"domain":[17.7,52.6]},"axis":{"values":[20,30,40,50],"format":"d"}}}},{"data":{"name":"lines"},"transform":[{"filter":"datum.c==4"}],"mark":{"type":"rule","color":"#ff0000","strokeWidth":1},"encoding":{"x":{"field":"q1","type":"quantitative"},"x2":{"field":"q2"},"y":{"field":"v1","type":"quantitative"},"y2":{"field":"v2"}}}]},
{"title":"cov 5","layer":[{"data":{"name":"pts"},"transform":[{"filter":"datum.c==5"}],"mark":{"type":"circle","size":17,"color":"#0000ff","opacity":1},"encoding":{"x":{"field":"q","type":"quantitative","title":"Q","scale":{"domain":[-3.06,3.06]},"axis":{"values":[-3,-2,-1,0,1,2,3],"format":"d"}},"y":{"field":"v","type":"quantitative","title":"Q'","scale":{"domain":[16.35,34.95]},"axis":{"values":[20,25,30],"format":"d"}}}},{"data":{"name":"lines"},"transform":[{"filter":"datum.c==5"}],"mark":{"type":"rule","color":"#ff0000","strokeWidth":1},"encoding":{"x":{"field":"q1","type":"quantitative"},"x2":{"field":"q2"},"y":{"field":"v1","type":"quantitative"},"y2":{"field":"v2"}}}]},
{"title":"cov 6","layer":[{"data":{"name":"pts"},"transform":[{"filter":"datum.c==6"}],"mark":{"type":"circle","size":17,"color":"#0000ff","opacity":1},"encoding":{"x":{"field":"q","type":"quantitative","title":"Q","scale":{"domain":[-3.08,3.12]},"axis":{"values":[-3,-2,-1,0,1,2,3],"format":"d"}},"y":{"field":"v","type":"quantitative","title":"Q'","scale":{"domain":[23.2,58.3]},"axis":{"values":[30,40,50],"format":"d"}}}},{"data":{"name":"lines"},"transform":[{"filter":"datum.c==6"}],"mark":{"type":"rule","color":"#ff0000","strokeWidth":1},"encoding":{"x":{"field":"q1","type":"quantitative"},"x2":{"field":"q2"},"y":{"field":"v1","type":"quantitative"},"y2":{"field":"v2"}}}]},
{"title":"cov 7","layer":[{"data":{"name":"pts"},"transform":[{"filter":"datum.c==7"}],"mark":{"type":"circle","size":17,"color":"#0000ff","opacity":1},"encoding":{"x":{"field":"q","type":"quantitative","title":"Q","scale":{"domain":[-3.07,3.1]},"axis":{"values":[-3,-2,-1,0,1,2,3],"format":"d"}},"y":{"field":"v","type":"quantitative","title":"Q'","scale":{"domain":[28.8,54.4]},"axis":{"values":[30,40,50],"format":"d"}}}},{"data":{"name":"lines"},"transform":[{"filter":"datum.c==7"}],"mark":{"type":"rule","color":"#ff0000","strokeWidth":1},"encoding":{"x":{"field":"q1","type":"quantitative"},"x2":{"field":"q2"},"y":{"field":"v1","type":"quantitative"},"y2":{"field":"v2"}}}]},
{"title":"cov 8","layer":[{"data":{"name":"pts"},"transform":[{"filter":"datum.c==8"}],"mark":{"type":"circle","size":17,"color":"#0000ff","opacity":1},"encoding":{"x":{"field":"q","type":"quantitative","title":"Q","scale":{"domain":[-3.05,3.11]},"axis":{"values":[-3,-2,-1,0,1,2,3],"format":"d"}},"y":{"field":"v","type":"quantitative","title":"Q'","scale":{"domain":[27.1,55.7]},"axis":{"values":[30,40,50],"format":"d"}}}},{"data":{"name":"lines"},"transform":[{"filter":"datum.c==8"}],"mark":{"type":"rule","color":"#ff0000","strokeWidth":1},"encoding":{"x":{"field":"q1","type":"quantitative"},"x2":{"field":"q2"},"y":{"field":"v1","type":"quantitative"},"y2":{"field":"v2"}}}]},
{"title":"cov 9","layer":[{"data":{"name":"pts"},"transform":[{"filter":"datum.c==9"}],"mark":{"type":"circle","size":17,"color":"#0000ff","opacity":1},"encoding":{"x":{"field":"q","type":"quantitative","title":"Q","scale":{"domain":[-3.3,3.3]},"axis":{"values":[-3,-2,-1,0,1,2,3],"format":"d"}},"y":{"field":"v","type":"quantitative","title":"Q'","scale":{"domain":[15.0,48.8]},"axis":{"values":[20,30,40],"format":"d"}}}},{"data":{"name":"lines"},"transform":[{"filter":"datum.c==9"}],"mark":{"type":"rule","color":"#ff0000","strokeWidth":1},"encoding":{"x":{"field":"q1","type":"quantitative"},"x2":{"field":"q2"},"y":{"field":"v1","type":"quantitative"},"y2":{"field":"v2"}}}]},
{"title":"cov 10","layer":[{"data":{"name":"pts"},"transform":[{"filter":"datum.c==10"}],"mark":{"type":"circle","size":17,"color":"#0000ff","opacity":1},"encoding":{"x":{"field":"q","type":"quantitative","title":"Q","scale":{"domain":[-3.3,3.3]},"axis":{"values":[-3,-2,-1,0,1,2,3],"format":"d"}},"y":{"field":"v","type":"quantitative","title":"Q'","scale":{"domain":[35.4,69.7]},"axis":{"values":[40,50,60],"format":"d"}}}},{"data":{"name":"lines"},"transform":[{"filter":"datum.c==10"}],"mark":{"type":"rule","color":"#ff0000","strokeWidth":1},"encoding":{"x":{"field":"q1","type":"quantitative"},"x2":{"field":"q2"},"y":{"field":"v1","type":"quantitative"},"y2":{"field":"v2"}}}]},
{"title":"cov 11","layer":[{"data":{"name":"pts"},"transform":[{"filter":"datum.c==11"}],"mark":{"type":"circle","size":17,"color":"#0000ff","opacity":1},"encoding":{"x":{"field":"q","type":"quantitative","title":"Q","scale":{"domain":[-3.3,3.3]},"axis":{"values":[-3,-2,-1,0,1,2,3],"format":"d"}},"y":{"field":"v","type":"quantitative","title":"Q'","scale":{"domain":[36.7,73.3]},"axis":{"values":[40,50,60,70],"format":"d"}}}},{"data":{"name":"lines"},"transform":[{"filter":"datum.c==11"}],"mark":{"type":"rule","color":"#ff0000","strokeWidth":1},"encoding":{"x":{"field":"q1","type":"quantitative"},"x2":{"field":"q2"},"y":{"field":"v1","type":"quantitative"},"y2":{"field":"v2"}}}]},
{"title":"cov 12","layer":[{"data":{"name":"pts"},"transform":[{"filter":"datum.c==12"}],"mark":{"type":"circle","size":17,"color":"#0000ff","opacity":1},"encoding":{"x":{"field":"q","type":"quantitative","title":"Q","scale":{"domain":[-3.3,3.3]},"axis":{"values":[-3,-2,-1,0,1,2,3],"format":"d"}},"y":{"field":"v","type":"quantitative","title":"Q'","scale":{"domain":[31.8,67.1]},"axis":{"values":[40,50,60],"format":"d"}}}},{"data":{"name":"lines"},"transform":[{"filter":"datum.c==12"}],"mark":{"type":"rule","color":"#ff0000","strokeWidth":1},"encoding":{"x":{"field":"q1","type":"quantitative"},"x2":{"field":"q2"},"y":{"field":"v1","type":"quantitative"},"y2":{"field":"v2"}}}]},
{"title":"cov 13","layer":[{"data":{"name":"pts"},"transform":[{"filter":"datum.c==13"}],"mark":{"type":"circle","size":17,"color":"#0000ff","opacity":1},"encoding":{"x":{"field":"q","type":"quantitative","title":"Q","scale":{"domain":[-3.3,3.3]},"axis":{"values":[-3,-2,-1,0,1,2,3],"format":"d"}},"y":{"field":"v","type":"quantitative","title":"Q'","scale":{"domain":[39.4,74.6]},"axis":{"values":[40,50,60,70],"format":"d"}}}},{"data":{"name":"lines"},"transform":[{"filter":"datum.c==13"}],"mark":{"type":"rule","color":"#ff0000","strokeWidth":1},"encoding":{"x":{"field":"q1","type":"quantitative"},"x2":{"field":"q2"},"y":{"field":"v1","type":"quantitative"},"y2":{"field":"v2"}}}]},
{"title":"cov 14","layer":[{"data":{"name":"pts"},"transform":[{"filter":"datum.c==14"}],"mark":{"type":"circle","size":17,"color":"#0000ff","opacity":1},"encoding":{"x":{"field":"q","type":"quantitative","title":"Q","scale":{"domain":[-3.3,3.3]},"axis":{"values":[-3,-2,-1,0,1,2,3],"format":"d"}},"y":{"field":"v","type":"quantitative","title":"Q'","scale":{"domain":[39,83]},"axis":{"values":[40,60,80],"format":"d"}}}},{"data":{"name":"lines"},"transform":[{"filter":"datum.c==14"}],"mark":{"type":"rule","color":"#ff0000","strokeWidth":1},"encoding":{"x":{"field":"q1","type":"quantitative"},"x2":{"field":"q2"},"y":{"field":"v1","type":"quantitative"},"y2":{"field":"v2"}}}]},
{"title":"cov 15","layer":[{"data":{"name":"pts"},"transform":[{"filter":"datum.c==15"}],"mark":{"type":"circle","size":17,"color":"#0000ff","opacity":1},"encoding":{"x":{"field":"q","type":"quantitative","title":"Q","scale":{"domain":[-3.3,3.3]},"axis":{"values":[-3,-2,-1,0,1,2,3],"format":"d"}},"y":{"field":"v","type":"quantitative","title":"Q'","scale":{"domain":[32,71.3]},"axis":{"values":[40,60],"format":"d"}}}},{"data":{"name":"lines"},"transform":[{"filter":"datum.c==15"}],"mark":{"type":"rule","color":"#ff0000","strokeWidth":1},"encoding":{"x":{"field":"q1","type":"quantitative"},"x2":{"field":"q2"},"y":{"field":"v1","type":"quantitative"},"y2":{"field":"v2"}}}]},
{"title":"cov 16","layer":[{"data":{"name":"pts"},"transform":[{"filter":"datum.c==16"}],"mark":{"type":"circle","size":17,"color":"#0000ff","opacity":1},"encoding":{"x":{"field":"q","type":"quantitative","title":"Q","scale":{"domain":[-3.3,3.3]},"axis":{"values":[-3,-2,-1,0,1,2,3],"format":"d"}},"y":{"field":"v","type":"quantitative","title":"Q'","scale":{"domain":[17.3,77.2]},"axis":{"values":[20,30,40,50,60,70],"format":"d"}}}},{"data":{"name":"lines"},"transform":[{"filter":"datum.c==16"}],"mark":{"type":"rule","color":"#ff0000","strokeWidth":1},"encoding":{"x":{"field":"q1","type":"quantitative"},"x2":{"field":"q2"},"y":{"field":"v1","type":"quantitative"},"y2":{"field":"v2"}}}]}
]
}
